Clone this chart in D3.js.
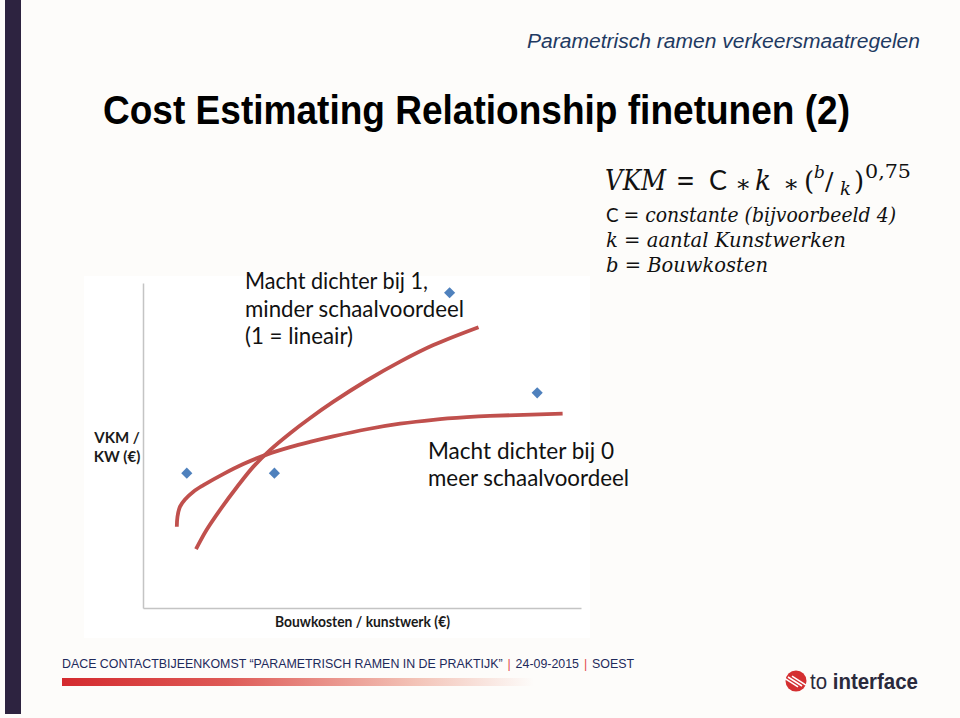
<!DOCTYPE html>
<html><head><meta charset="utf-8">
<script src="https://cdn.jsdelivr.net/npm/d3@7"></script>
<style>html,body{margin:0;padding:0;background:#fdfcfa;}svg{display:block;}</style>
</head><body>
<script>
// ---- data (abstract chart units: x 0..100 bouwkosten, y 0..100 VKM/KW) ----
const pointsX = [10, 30, 70, 90];
const pointsY = [41.5, 41.5, 97, 66.2];

const curveNearOneX = [12.1, 14.5, 17.6, 21.5, 25.2, 29.0, 33.6, 38.1, 43.4, 51.1, 58.7, 66.3, 76.6];
const curveNearOneY = [18.1, 24.0, 30.2, 37.3, 43.5, 48.6, 53.8, 58.4, 63.4, 70.0, 75.8, 80.9, 86.4];

const curveNearZeroX = [7.72, 7.87, 8.45, 9.59, 11.5, 13.8, 18.3, 22.9, 28.2, 33.6, 38.1, 43.4, 51.1, 58.7, 66.3, 73.9, 79.2, 95.8];
const curveNearZeroY = [25.0, 28.1, 31.2, 33.4, 35.8, 37.8, 41.2, 44.3, 47.2, 49.5, 51.1, 52.8, 55.0, 56.7, 57.9, 58.7, 59.1, 59.8];

const yAxisLabel = ["VKM /", "KW (€)"];
const xAxisLabel = "Bouwkosten / kunstwerk (€)";
const noteOne = ["Macht dichter bij 1,", "minder schaalvoordeel", "(1 = lineair)"];
const noteZero = ["Macht dichter bij 0", "meer schaalvoordeel"];
const formulaLines = ["C = constante (bijvoorbeeld 4)", "k = aantal Kunstwerken", "b = Bouwkosten"];
const titleText = "Cost Estimating Relationship finetunen (2)";
const subtitleText = "Parametrisch ramen verkeersmaatregelen";
const footerParts = ["DACE CONTACTBIJEENKOMST \u201CPARAMETRISCH RAMEN IN DE PRAKTIJK\u201D", "|", "24-09-2015", "|", "SOEST"];

// ---- drawing ----
const W = 960, H = 718;
const svg = d3.select("body").append("svg").attr("width", W).attr("height", H);
svg.append("rect").attr("width", W).attr("height", H).attr("fill", "#fdfcfa");

// left bar
svg.append("rect").attr("x", 5).attr("y", 0).attr("width", 16).attr("height", 714).attr("fill", "#2d2340");

function fit(sel, w) { sel.attr("textLength", w).attr("lengthAdjust", "spacingAndGlyphs"); return sel; }

// subtitle
fit(svg.append("text").attr("x", 527).attr("y", 48)
  .attr("font-family", "Liberation Sans, Arial, sans-serif").attr("font-style", "italic")
  .attr("font-size", 20.5).attr("fill", "#1f3a62").text(subtitleText), 393);

// title
fit(svg.append("text").attr("x", 103).attr("y", 124)
  .attr("font-family", "Liberation Sans, Arial, sans-serif").attr("font-weight", "bold")
  .attr("font-size", 40).attr("fill", "#000").text(titleText), 747);

// chart picture background
svg.append("rect").attr("x", 84).attr("y", 276).attr("width", 506).attr("height", 362).attr("fill", "#ffffff");

const x = d3.scaleLinear().domain([0, 100]).range([143, 581]);
const y = d3.scaleLinear().domain([0, 100]).range([608, 283]);

svg.append("g").attr("transform", "translate(0,608)")
  .call(d3.axisBottom(x).tickValues([]).tickSizeOuter(0));
svg.append("g").attr("transform", "translate(143,0)")
  .call(d3.axisLeft(y).tickValues([]).tickSizeOuter(0));
svg.selectAll(".domain").attr("stroke", "#c4c4c4").attr("stroke-width", 1.5);

// axis labels
svg.append("g").selectAll("text").data(yAxisLabel).join("text")
  .attr("x", 117).attr("y", (d, i) => 443 + i * 19).attr("text-anchor", "middle")
  .attr("font-family", "Lato, Open Sans, sans-serif").attr("font-weight", "bold")
  .attr("font-size", 15).attr("fill", "#1a1a1a").text(d => d);
fit(svg.append("text").attr("x", 275).attr("y", 627)
  .attr("font-family", "Lato, Open Sans, sans-serif").attr("font-weight", "bold")
  .attr("font-size", 15).attr("fill", "#1a1a1a").text(xAxisLabel), 175);

// curves
const line = d3.line().x(d => x(d[0])).y(d => y(d[1])).curve(d3.curveCatmullRom.alpha(0.5));
const c1 = curveNearOneX.map((v, i) => [v, curveNearOneY[i]]);
const c0 = curveNearZeroX.map((v, i) => [v, curveNearZeroY[i]]);
[c0, c1].forEach(c => svg.append("path").attr("d", line(c)).attr("fill", "none")
  .attr("stroke", "#c0504d").attr("stroke-width", 3.8).attr("stroke-linecap", "butt"));

// points
const sym = d3.symbol().type(d3.symbolSquare).size(62);
svg.append("g").selectAll("path").data(pointsX.map((v, i) => [v, pointsY[i]])).join("path")
  .attr("d", sym).attr("fill", "#4f81bd")
  .attr("transform", d => `translate(${x(d[0])},${y(d[1])}) rotate(45)`);

// annotations
const noteFont = "Lato, Open Sans, sans-serif";
const w1 = [183, 219, 108];
noteOne.forEach((t, i) => fit(svg.append("text").attr("x", 245).attr("y", 289 + i * 27.5)
  .attr("font-family", noteFont).attr("font-size", 22.5).attr("fill", "#111").text(t), w1[i]));
const w0 = [186, 201];
noteZero.forEach((t, i) => fit(svg.append("text").attr("x", 428).attr("y", 459 + i * 27)
  .attr("font-family", noteFont).attr("font-size", 22.5).attr("fill", "#111").text(t), w0[i]));

// formula
const ff = "DejaVu Serif, Liberation Serif, serif";
const fcol = "#111";
function ft(xp, yp, t, size, italic, fam) {
  return svg.append("text").attr("x", xp).attr("y", yp).attr("font-family", fam || ff)
    .attr("font-size", size).attr("font-style", italic ? "italic" : "normal").attr("fill", fcol).text(t);
}
fit(ft(605, 190, "VKM", 27, true), 61);
fit(ft(676, 190, "=", 27, false), 19);
ft(709, 190, "C", 27, false, "Lato, Open Sans, sans-serif");
ft(735, 192, "\u2217", 24, false);
fit(ft(755, 190, "k", 27, true), 16);
ft(783, 192, "\u2217", 24, false);
ft(804, 190, "(", 26, false);
ft(814, 178, "b", 17, true);
ft(825, 190, "/", 25, false);
ft(840, 195, "k", 18, true);
ft(854, 190, ")", 26, false);
fit(ft(865, 178, "0,75", 18, false), 46);

const fw = [290, 240, 162];
formulaLines.forEach((t, i) => {
  const el = svg.append("text").attr("x", 606).attr("y", 222 + i * 25)
    .attr("font-family", ff).attr("font-size", 19.5).attr("fill", fcol);
  const eq = t.indexOf("=");
  const v = t.slice(0, eq).trim();
  el.append("tspan").attr("font-style", v === "C" ? "normal" : "italic")
    .attr("font-family", v === "C" ? "Lato, Open Sans, sans-serif" : null).text(v + " ");
  el.append("tspan").text("= ");
  el.append("tspan").attr("font-style", "italic").text(t.slice(eq + 1).trim());
  fit(el, fw[i]);
});

// footer: separate texts placed side by side at natural width
const fFam = "Liberation Sans, Arial, sans-serif", fSize = 12.4;
const parts = footerParts.map(p => {
  const t = svg.append("text").attr("y", 668).attr("font-family", fFam).attr("font-size", fSize)
    .attr("fill", p === "|" ? "#e2454b" : "#1e2a5c").text(p);
  return { t, w: t.node().getComputedTextLength() };
});
const totalW = d3.sum(parts, p => p.w);
const gap = Math.max(4, (572 - totalW) / (parts.length - 1));
let cx = 62;
parts.forEach(p => { p.t.attr("x", cx); cx += p.w + gap; });

const grad = svg.append("defs").append("linearGradient").attr("id", "fg").attr("x1", "0").attr("x2", "1");
grad.append("stop").attr("offset", "0").attr("stop-color", "#d42a2e");
grad.append("stop").attr("offset", "0.35").attr("stop-color", "#de5a56");
grad.append("stop").attr("offset", "0.75").attr("stop-color", "#f3c3b7");
grad.append("stop").attr("offset", "1").attr("stop-color", "#fdfcfa");
svg.append("rect").attr("x", 62).attr("y", 678).attr("width", 472).attr("height", 8).attr("fill", "url(#fg)");

// logo
const lg = svg.append("g").attr("transform", "translate(796,681)");
lg.append("circle").attr("r", 10.5).attr("fill", "#d42f31");
[-4, 0, 4].forEach(o => lg.append("line").attr("x1", -8 + o).attr("y1", -4 - o * 0.2).attr("x2", 6 + o).attr("y2", 5 - o * 0.2)
  .attr("stroke", "#fff").attr("stroke-width", 1.6));
const lt = svg.append("text").attr("x", 810).attr("y", 689).attr("font-family", "Liberation Sans, Arial, sans-serif")
  .attr("font-size", 22).attr("fill", "#2a2a3c");
lt.append("tspan").text("to");
lt.append("tspan").attr("font-weight", "bold").text(" interface");
fit(lt, 108);
</script>
</body></html>
